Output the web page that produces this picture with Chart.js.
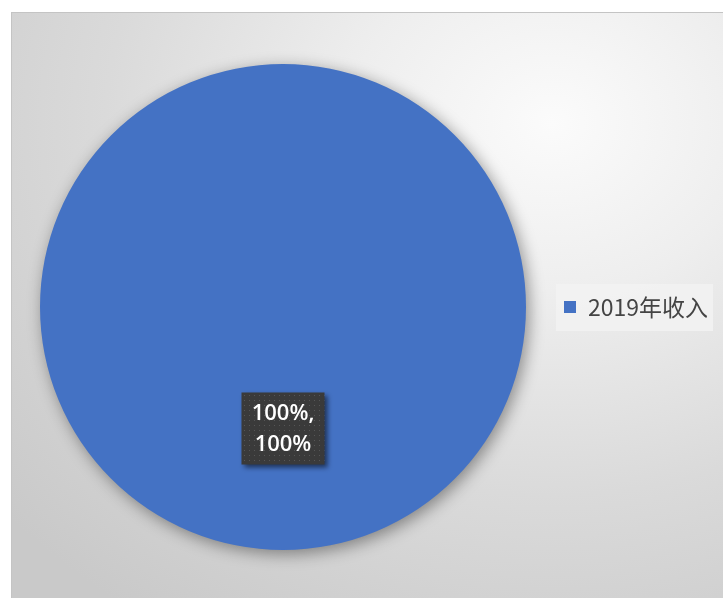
<!DOCTYPE html>
<html lang="zh">
<head>
    <meta charset="UTF-8">
    <title>2019年收入</title>
    <script src="https://cdn.jsdelivr.net/npm/chart.js"></script>
    <style>
        body { margin: 0; background: #fff; }
        .chart-box {
            position: absolute;
            left: 11px;
            top: 12px;
            width: 712px;
            height: 586px;
            border-top: 1px solid #c4c4c4;
            border-left: 1px solid #c4c4c4;
            box-sizing: border-box;
            background: radial-gradient(ellipse 720px 600px at 540px 110px, #fbfbfb 0%, #eeeeee 28%, #dadada 62%, #c9c9c9 100%);
        }
        canvas { display: block; }
    </style>
</head>
<body>
    <div class="chart-box">
        <canvas id="pieChart" width="711" height="585"></canvas>
    </div>

    <script>
        const labels = ['2019年收入'];
        const values = [100];
        const colors = ['#4472C4'];

        // soft drop shadow under the pie
        const pieShadow = {
            id: 'pieShadow',
            beforeDatasetsDraw(chart) {
                const ctx = chart.ctx;
                ctx.save();
                ctx.shadowColor = 'rgba(0,0,0,0.4)';
                ctx.shadowBlur = 16;
                ctx.shadowOffsetX = 3;
                ctx.shadowOffsetY = 4;
            },
            afterDatasetsDraw(chart) {
                chart.ctx.restore();
            }
        };

        // dark dotted box with "value%, percent%" on each slice
        const sliceLabels = {
            id: 'sliceLabels',
            afterDraw(chart) {
                const ctx = chart.ctx;
                const meta = chart.getDatasetMeta(0);
                const total = values.reduce((a, b) => a + b, 0);

                const tile = document.createElement('canvas');
                tile.width = 5; tile.height = 5;
                const tctx = tile.getContext('2d');
                tctx.fillStyle = '#3a3a3a';
                tctx.fillRect(0, 0, 5, 5);
                tctx.fillStyle = '#565656';
                tctx.fillRect(2, 2, 1, 1);
                const pattern = ctx.createPattern(tile, 'repeat');

                meta.data.forEach((arc, i) => {
                    const pos = arc.tooltipPosition();
                    const pct = Math.round(values[i] / total * 100);
                    const lines = [values[i] + '%,', pct + '%'];
                    const w = 83, h = 72;
                    const x = pos.x - w / 2, y = pos.y - h / 2;

                    ctx.save();
                    ctx.shadowColor = 'rgba(0,0,0,0.55)';
                    ctx.shadowBlur = 5;
                    ctx.shadowOffsetX = 3;
                    ctx.shadowOffsetY = 3;
                    ctx.fillStyle = pattern;
                    ctx.fillRect(x, y, w, h);
                    ctx.restore();

                    ctx.save();
                    ctx.fillStyle = '#fff';
                    ctx.font = '600 22px "Open Sans"';
                    ctx.textAlign = 'center';
                    ctx.textBaseline = 'middle';
                    ctx.fillText(lines[0], pos.x, pos.y - 15);
                    ctx.fillText(lines[1], pos.x, pos.y + 16);
                    ctx.restore();
                });
            }
        };

        // legend on the right with its own light backing
        const sideLegend = {
            id: 'sideLegend',
            afterDraw(chart) {
                const ctx = chart.ctx;
                const x = 544, y = 271, w = 157, h = 47;
                ctx.save();
                ctx.fillStyle = 'rgba(242,242,242,0.85)';
                ctx.fillRect(x, y, w, h);
                labels.forEach((label, i) => {
                    ctx.fillStyle = colors[i];
                    ctx.fillRect(x + 8, y + 17, 12, 12);
                    ctx.fillStyle = '#444';
                    ctx.font = '23px "Noto Sans CJK SC"';
                    ctx.textBaseline = 'middle';
                    ctx.fillText(label, x + 32, y + 23);
                });
                ctx.restore();
            }
        };

        new Chart(document.getElementById('pieChart'), {
            type: 'pie',
            data: {
                labels: labels,
                datasets: [{
                    data: values,
                    backgroundColor: colors,
                    borderWidth: 0
                }]
            },
            options: {
                responsive: false,
                animation: false,
                layout: {
                    padding: { left: 28, right: 197, top: 51, bottom: 48 }
                },
                plugins: {
                    legend: { display: false },
                    tooltip: { enabled: false }
                }
            },
            plugins: [pieShadow, sliceLabels, sideLegend]
        });
    </script>
</body>
</html>
